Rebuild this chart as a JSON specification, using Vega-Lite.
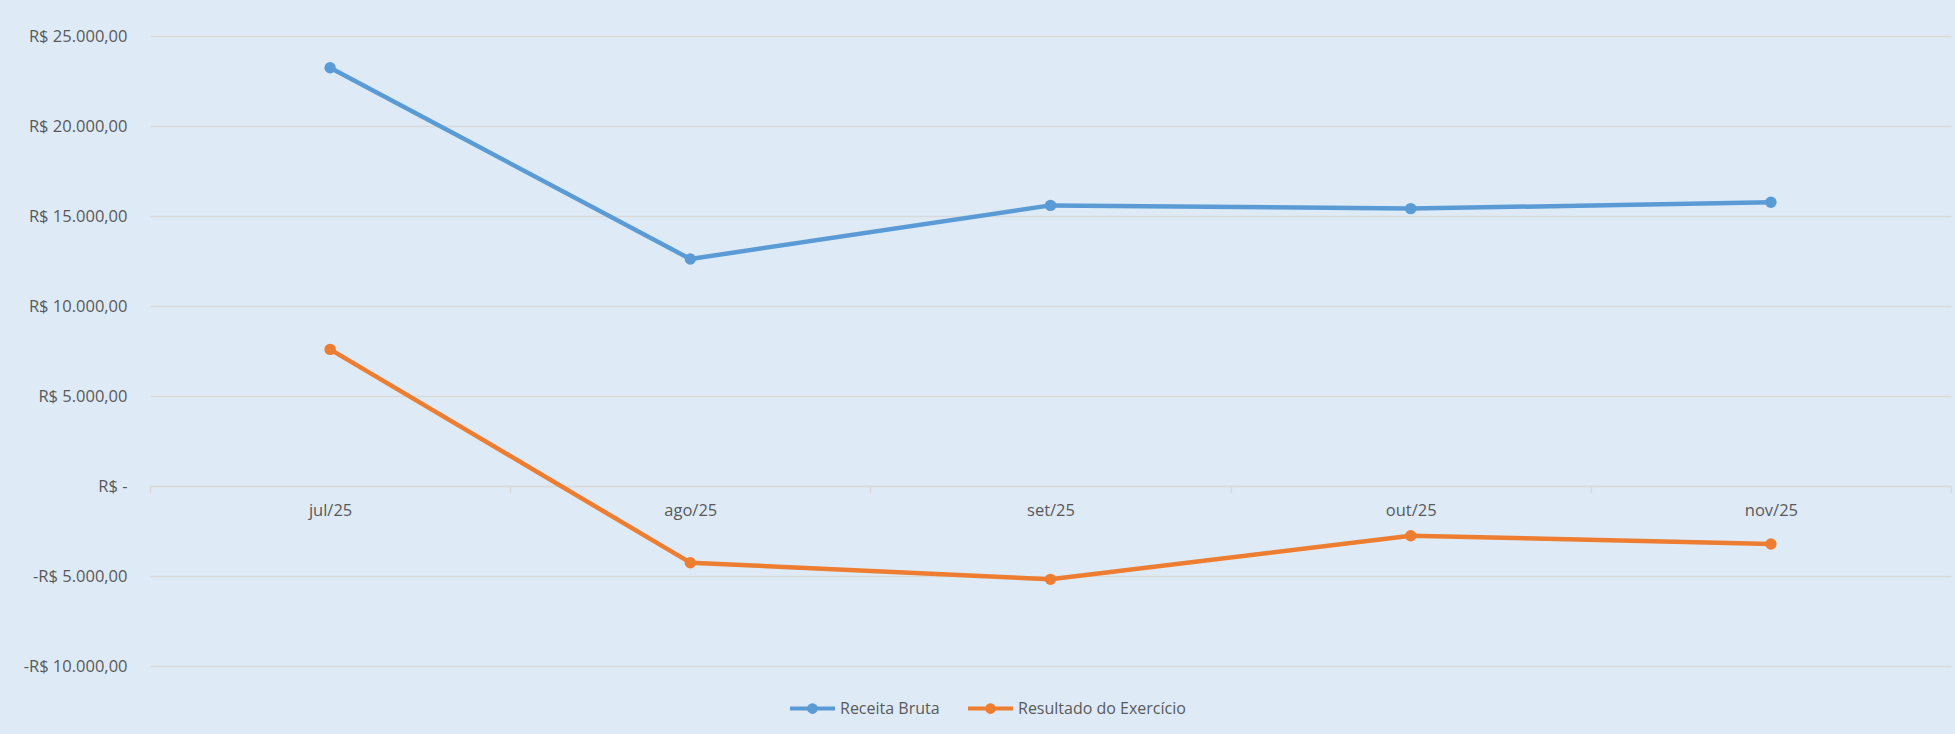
{
  "$schema": "https://vega.github.io/schema/vega-lite/v6.json",
  "width": 1801,
  "height": 630,
  "autosize": {"type": "none"},
  "padding": {"left": 150, "top": 36, "right": 4, "bottom": 68},
  "background": "#deebf7",
  "config": {
    "view": {"stroke": null},
    "font": "Open Sans",
    "axis": {"labelFont": "Open Sans", "labelColor": "#595959", "labelFontSize": 16.5, "title": null}
  },
  "data": {
    "values": [
      {"mes": "jul/25", "serie": "Receita Bruta", "valor": 23240},
      {"mes": "ago/25", "serie": "Receita Bruta", "valor": 12610},
      {"mes": "set/25", "serie": "Receita Bruta", "valor": 15590},
      {"mes": "out/25", "serie": "Receita Bruta", "valor": 15410},
      {"mes": "nov/25", "serie": "Receita Bruta", "valor": 15760},
      {"mes": "jul/25", "serie": "Resultado do Exercício", "valor": 7590},
      {"mes": "ago/25", "serie": "Resultado do Exercício", "valor": -4260},
      {"mes": "set/25", "serie": "Resultado do Exercício", "valor": -5185},
      {"mes": "out/25", "serie": "Resultado do Exercício", "valor": -2760},
      {"mes": "nov/25", "serie": "Resultado do Exercício", "valor": -3220}
    ]
  },
  "encoding": {
    "x": {
      "field": "mes",
      "type": "ordinal",
      "sort": null,
      "bandPosition": 0.5,
      "scale": {"type": "band", "paddingInner": 0, "paddingOuter": 0},
      "axis": {
        "orient": "bottom",
        "offset": -180,
        "labelAngle": 0,
        "grid": false,
        "domainColor": "#d9d9d9",
        "domainWidth": 1.5,
        "ticks": true,
        "tickBand": "extent",
        "tickSize": 7,
        "tickColor": "#d9d9d9",
        "tickWidth": 1.5,
        "labelPadding": 9
      }
    },
    "y": {
      "field": "valor",
      "type": "quantitative",
      "scale": {"domain": [-10000, 25000], "nice": false, "zero": false},
      "axis": {
        "values": [-10000, -5000, 0, 5000, 10000, 15000, 20000, 25000],
        "domain": false,
        "ticks": false,
        "grid": true,
        "gridColor": "#d9d9d9",
        "gridWidth": 1.5,
        "labelPadding": 23,
        "labelExpr": "datum.value == 0 ? 'R$ -  ' : (datum.value < 0 ? '-R$ ' : 'R$ ') + replace(replace(replace(format(abs(datum.value), ',.2f'), regexp(',', 'g'), '#'), regexp('[.]', 'g'), ','), regexp('#', 'g'), '.')"
      }
    },
    "color": {
      "field": "serie",
      "type": "nominal",
      "scale": {"domain": ["Receita Bruta", "Resultado do Exercício"], "range": ["#5b9bd5", "#ed7d31"]},
      "legend": {
        "orient": "none",
        "legendX": 638,
        "legendY": 648,
        "direction": "horizontal",
        "title": null,
        "symbolType": "M-1,0H1M-0.15,0A0.15,0.15,0,1,0,0.15,0A0.15,0.15,0,1,0,-0.15,0Z",
        "symbolSize": 2025,
        "symbolStrokeWidth": 4,
        "symbolOpacity": 1,
        "labelFont": "Open Sans",
        "labelFontSize": 16,
        "labelColor": "#595959",
        "labelOffset": 3,
        "labelLimit": 400,
        "columnPadding": 20,
        "padding": 0
      }
    }
  },
  "layer": [
    {"mark": {"type": "line", "strokeWidth": 4.5, "strokeCap": "round", "strokeJoin": "round"}},
    {"mark": {"type": "point", "filled": true, "size": 130, "opacity": 1}}
  ]
}
